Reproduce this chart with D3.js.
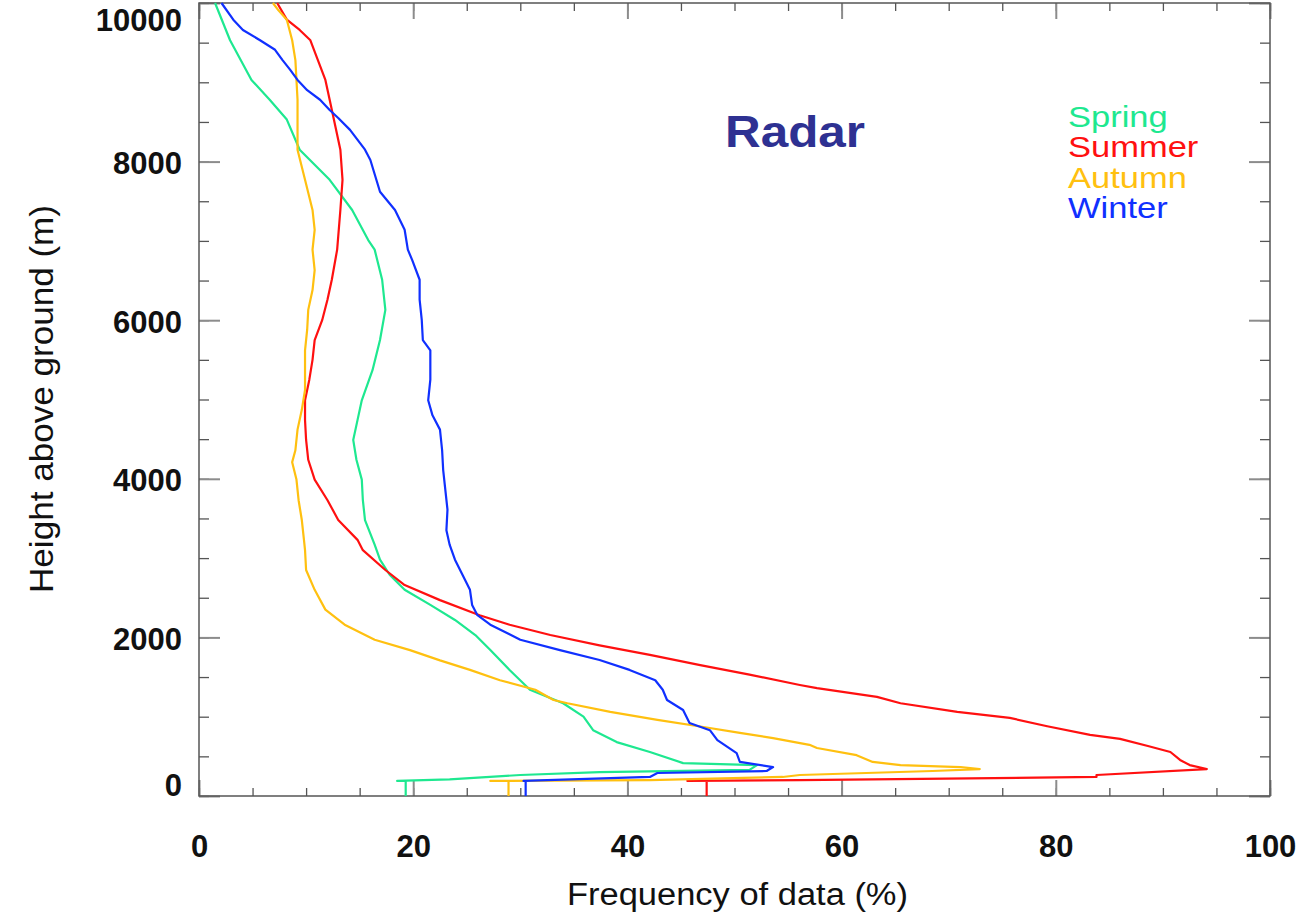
<!DOCTYPE html>
<html>
<head>
<meta charset="utf-8">
<script src="https://cdn.jsdelivr.net/npm/d3@7"></script>
<style>
  body { margin: 0; background: #fff; }
  text { font-family: "Liberation Sans", Arial, Helvetica, sans-serif; }
</style>
</head>
<body>
<svg id="chart" width="1311" height="923"></svg>
<script>

// profiles: [frequency %, height m]
var spring = [
  [19.3,0],[19.3,190],[18.5,190],[23.4,210],[30.0,265],[37.4,300],[51.4,330],[52.1,390],
  [45.2,415],[42.1,555],[39.0,680],[36.8,830],[35.9,1000],[34.0,1170],[30.9,1340],[29.0,1590],
  [27.2,1840],[25.8,2030],[23.9,2220],[21.6,2410],[19.2,2600],[17.8,2790],[16.9,2980],[16.4,3170],
  [15.5,3480],[15.3,3730],[15.2,3990],[14.7,4240],[14.4,4490],[14.8,4740],[15.2,4990],[16.2,5370],
  [16.9,5750],[17.4,6130],[17.1,6510],[16.4,6890],[15.8,7010],[14.3,7390],[12.2,7770],[9.4,8150],
  [8.2,8530],[6.6,8780],[4.9,9030],[2.9,9530],[1.5,10000]
];
var summer = [
  [47.4,0],[47.4,190],[45.6,190],[56.1,200],[83.8,240],[83.8,265],[94.1,340],[92.5,390],
  [91.6,455],[90.7,555],[88.6,630],[86.0,720],[83.2,770],[79.2,880],[75.7,985],[70.8,1060],
  [65.5,1170],[63.3,1250],[57.7,1360],[56.1,1400],[51.4,1530],[46.8,1650],[42.1,1780],[37.4,1900],
  [32.8,2030],[29.0,2160],[26.2,2280],[22.5,2470],[19.2,2660],[17.4,2850],[15.3,3100],[14.8,3230],
  [13.0,3480],[12.0,3730],[10.8,3990],[10.2,4240],[10.0,4490],[9.9,4740],[9.9,4990],[10.3,5250],
  [10.6,5500],[10.8,5750],[11.5,6000],[12.0,6260],[12.4,6510],[12.9,6890],[13.2,7390],[13.4,7770],
  [13.2,8150],[12.5,8590],[12.2,8780],[11.8,9030],[11.1,9280],[10.4,9530],[9.4,9660],[8.2,9790],
  [7.3,10000]
];
var autumn = [
  [28.9,0],[28.9,190],[27.2,190],[42.1,200],[54.5,240],[56.1,265],[68.5,315],[72.9,340],
  [71.1,365],[65.5,390],[62.9,430],[61.4,515],[57.7,605],[57.0,645],[53.6,730],[50.5,795],
  [47.1,870],[42.8,960],[38.4,1060],[34.4,1170],[33.1,1210],[31.4,1340],[28.1,1460],[25.3,1590],
  [22.5,1710],[19.7,1840],[16.4,1970],[13.6,2160],[11.8,2350],[10.8,2600],[10.0,2850],[9.9,3100],
  [9.8,3230],[9.6,3480],[9.3,3730],[9.1,3990],[8.7,4210],[9.0,4360],[9.2,4620],[9.6,4870],
  [9.9,5120],[9.9,5620],[10.1,5880],[10.2,6130],[10.6,6380],[10.8,6630],[10.6,6890],[10.8,7140],
  [10.6,7390],[9.9,7770],[9.2,8150],[9.2,8780],[9.0,9280],[8.7,9530],[8.2,9790],[7.4,9910],
  [6.9,10000]
];
var winter = [
  [30.5,0],[30.5,190],[30.3,190],[42.1,240],[42.8,290],[53.0,315],[53.6,365],[50.5,430],
  [50.2,540],[48.4,705],[47.7,830],[45.8,920],[45.2,1085],[43.7,1210],[43.3,1340],[42.6,1460],
  [40.2,1590],[37.4,1715],[33.7,1840],[30.0,1970],[27.2,2160],[26.0,2280],[25.5,2410],[25.3,2600],
  [24.6,2790],[23.9,2980],[23.4,3170],[23.1,3350],[23.2,3610],[23.0,3860],[22.8,4110],[22.7,4360],
  [22.5,4620],[21.8,4800],[21.4,4990],[21.6,5250],[21.6,5620],[20.9,5750],[20.8,6000],[20.6,6260],
  [20.6,6510],[19.9,6760],[19.5,6890],[19.2,7140],[18.3,7390],[16.9,7620],[16.0,8020],[15.5,8150],
  [14.1,8400],[13.0,8550],[12.2,8650],[11.3,8780],[10.1,8900],[9.2,9030],[8.5,9160],[7.8,9280],
  [7.1,9410],[5.7,9530],[4.1,9660],[3.2,9790],[2.1,10000]
];

var seasons = ['Spring', 'Summer', 'Autumn', 'Winter'];
var colors  = ['#1ee890', '#ff1010', '#ffc010', '#1030ff'];

var xTicks = [0, 20, 40, 60, 80, 100];
var yTicks = [0, 2000, 4000, 6000, 8000, 10000];

var svg = d3.select('#chart');

var x = d3.scaleLinear().domain([0, 100]).range([199, 1270]);
var y = d3.scaleLinear().domain([0, 10000]).range([796, 3]);

var xMinor = d3.range(0, 101, 5);
var yMinor = d3.range(0, 10001, 500);

// ticks on all four sides, pointing inward (IDL style)
function tickAxis(axis, tr, values, size, major) {
	var g = svg.append('g')
		.attr('transform', tr)
		.call(axis.tickValues(values).tickSize(-size).tickFormat(''));
	g.select('.domain').remove();
	g.selectAll('line')
		.attr('stroke', major ? '#8c8c8c' : '#555')
		.attr('stroke-width', major ? 2 : 1.3);
	return g;
}

tickAxis(d3.axisBottom(x), 'translate(0,796)', xMinor, 8, false);
tickAxis(d3.axisTop(x),    'translate(0,3)',   xMinor, 8, false);
tickAxis(d3.axisLeft(y),   'translate(199,0)', yMinor, 10, false);
tickAxis(d3.axisRight(y),  'translate(1270,0)', yMinor, 10, false);
tickAxis(d3.axisBottom(x), 'translate(0,796)', xTicks, 16, true);
tickAxis(d3.axisTop(x),    'translate(0,3)',   xTicks, 16, true);
tickAxis(d3.axisLeft(y),   'translate(199,0)', yTicks, 21, true);
tickAxis(d3.axisRight(y),  'translate(1270,0)', yTicks, 21, true);

// frame
svg.append('rect')
	.attr('x', 199).attr('y', 3)
	.attr('width', 1071).attr('height', 793)
	.attr('fill', 'none')
	.attr('stroke', '#555')
	.attr('stroke-width', 1.5);

// tick labels
var xLab = svg.append('g')
	.attr('transform', 'translate(0,796)')
	.call(d3.axisBottom(x).tickValues(xTicks).tickSize(0).tickFormat(d3.format('d')));
xLab.select('.domain').remove();
xLab.selectAll('text')
	.attr('y', 61).attr('dy', null)
	.attr('fill', '#111')
	.style('font-size', '31px')
	.style('font-weight', 'bold');

var yLab = svg.append('g')
	.attr('transform', 'translate(199,0)')
	.call(d3.axisLeft(y).tickValues(yTicks).tickSize(0).tickFormat(d3.format('d')));
yLab.select('.domain').remove();
yLab.selectAll('text')
	.attr('x', -17)
	.attr('dy', function(d) { return d === 10000 ? 27 : (d === 0 ? -1 : 12); })
	.attr('fill', '#111')
	.style('font-size', '31px')
	.style('font-weight', 'bold');

// axis titles
svg.append('text')
	.attr('x', 567).attr('y', 905)
	.attr('textLength', 341).attr('lengthAdjust', 'spacingAndGlyphs')
	.style('font-size', '31px')
	.attr('fill', '#111')
	.text('Frequency of data (%)');

svg.append('text')
	.attr('transform', 'translate(53,593) rotate(-90)')
	.attr('textLength', 388).attr('lengthAdjust', 'spacingAndGlyphs')
	.style('font-size', '33px')
	.attr('fill', '#111')
	.text('Height above ground (m)');

// profiles
var line = d3.line()
	.x(function(d) { return x(d[0]); })
	.y(function(d) { return y(d[1]); });

var profiles = [spring, summer, autumn, winter];

svg.append('g')
	.selectAll('path')
	.data(profiles)
	.enter()
	.append('path')
	.attr('d', line)
	.attr('fill', 'none')
	.attr('stroke', function(d, i) { return colors[i]; })
	.attr('stroke-width', 2.2)
	.attr('stroke-linejoin', 'round');

// title
svg.append('text')
	.attr('x', 725).attr('y', 147)
	.attr('textLength', 140).attr('lengthAdjust', 'spacingAndGlyphs')
	.style('font-size', '45px')
	.style('font-weight', 'bold')
	.attr('fill', '#2e3192')
	.text('Radar');

// legend
svg.append('g')
	.attr('transform', 'translate(1068,0) scale(1.15,1)')
	.selectAll('text')
	.data(seasons)
	.enter()
	.append('text')
	.attr('x', 0)
	.attr('y', function(d, i) { return 127 + i * 30.5; })
	.style('font-size', '30px')
	.attr('fill', function(d, i) { return colors[i]; })
	.text(function(d) { return d; });

</script>
</body>
</html>
